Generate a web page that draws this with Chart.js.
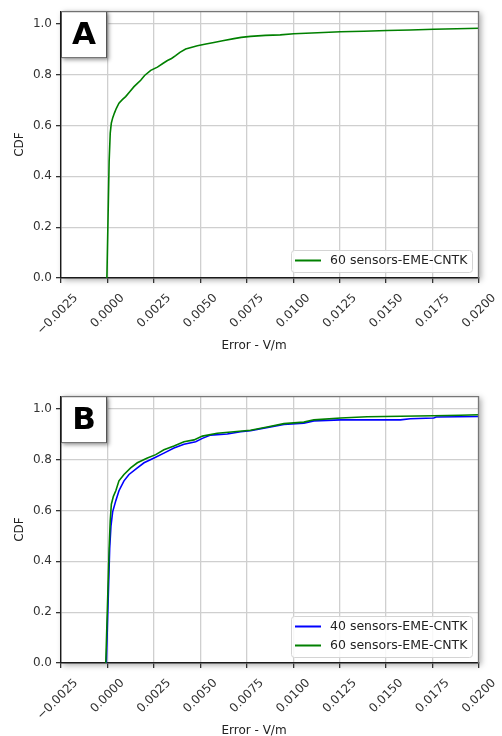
<!DOCTYPE html>
<html>
<head>
<meta charset="utf-8">
<script src="https://cdn.jsdelivr.net/npm/chart.js@4.4.1/dist/chart.umd.min.js"></script>
<style>
  html, body { margin: 0; padding: 0; background: #ffffff; }
  #page { position: relative; width: 502px; height: 736px; overflow: hidden; }
  .panel { position: absolute; left: 0; width: 502px; }
  #panelA { top: 0; height: 356px; }
  #panelB { top: 385px; height: 351px; }
</style>
</head>
<body>
<div id="page">
  <div class="panel" id="panelA"><canvas id="chartA" width="502" height="356"></canvas></div>
  <div class="panel" id="panelB"><canvas id="chartB" width="502" height="351"></canvas></div>
</div>
<script>
// ---- axes ----
const xTicks = [-0.0025, 0, 0.0025, 0.005, 0.0075, 0.01, 0.0125, 0.015, 0.0175, 0.02];
const xTickLabels = ['\u22120.0025', '0.0000', '0.0025', '0.0050', '0.0075', '0.0100', '0.0125', '0.0150', '0.0175', '0.0200'];
const yTicks = [0, 0.2, 0.4, 0.6, 0.8, 1.0];
const yTickLabels = ['0.0', '0.2', '0.4', '0.6', '0.8', '1.0'];
const xTitle = 'Error - V/m';
const yTitle = 'CDF';
const panelLetters = ['A', 'B'];
const seriesLabels = ['40 sensors-EME-CNTK', '60 sensors-EME-CNTK'];

// ---- panel A: 60 sensors ----
const errA60 = [-0.00003, 0.00009, 0.00015, 0.00021, 0.00029, 0.00038, 0.00048, 0.00062,
  0.0008, 0.00098, 0.0012, 0.00143, 0.0016, 0.00179, 0.002, 0.00233, 0.00269, 0.003,
  0.00323, 0.00345, 0.00367, 0.0039, 0.00421, 0.0045, 0.00484, 0.0053, 0.00573, 0.0062,
  0.00681, 0.0072, 0.0077, 0.0085, 0.0093, 0.01003, 0.011, 0.01255, 0.0138, 0.01505,
  0.0163, 0.01756, 0.0188, 0.02];
const cdfA60 = [0, 0.456, 0.57, 0.61, 0.632, 0.65, 0.668, 0.688,
  0.702, 0.714, 0.733, 0.753, 0.765, 0.778, 0.797, 0.817, 0.83, 0.845,
  0.856, 0.864, 0.875, 0.888, 0.901, 0.907, 0.914, 0.921, 0.927, 0.934,
  0.942, 0.947, 0.951, 0.955, 0.957, 0.961, 0.964, 0.969, 0.971, 0.974,
  0.976, 0.979, 0.981, 0.983];

// ---- panel B: 40 sensors ----
const errB40 = [-0.00006, 0.00012, 0.00019, 0.00028, 0.00045, 0.00062, 0.00089, 0.00116,
  0.00161, 0.00197, 0.00251, 0.00304, 0.00358, 0.00412, 0.00475, 0.00511, 0.00555, 0.00645,
  0.00717, 0.0077, 0.0095, 0.01057, 0.01111, 0.01255, 0.01577, 0.0163, 0.01756, 0.0177, 0.02];
const cdfB40 = [0, 0.45, 0.54, 0.595, 0.639, 0.678, 0.717, 0.742,
  0.768, 0.788, 0.807, 0.826, 0.846, 0.861, 0.871, 0.884, 0.897, 0.901,
  0.91, 0.914, 0.939, 0.944, 0.953, 0.957, 0.957, 0.961, 0.964, 0.968, 0.97];

// ---- panel B: 60 sensors ----
const errB60 = [-0.00009, 0.00009, 0.00015, 0.00021, 0.00032, 0.00045, 0.00062,
  0.00089, 0.00125, 0.00161, 0.00215, 0.0026, 0.00304, 0.00358, 0.00412, 0.00466, 0.00511,
  0.00591, 0.00681, 0.0077, 0.0086, 0.0095, 0.01057, 0.01111, 0.01255, 0.01398, 0.01577,
  0.01756, 0.019, 0.02];
const cdfB60 = [0, 0.45, 0.56, 0.625, 0.656, 0.678, 0.717,
  0.742, 0.768, 0.788, 0.807, 0.82, 0.839, 0.854, 0.871, 0.878, 0.893,
  0.904, 0.91, 0.916, 0.929, 0.942, 0.948, 0.957, 0.964, 0.969, 0.971,
  0.973, 0.975, 0.977];

const FONT = 'DejaVu Sans';
const BLUE = '#0000ff';
const GREEN = '#008000';

function points(xs, ys) {
  return xs.map((x, i) => ({ x: x, y: ys[i] }));
}

// White plot face with a soft drop shadow behind it
const faceShadow = {
  id: 'faceShadow',
  beforeDraw(chart) {
    const { ctx, chartArea: a } = chart;
    ctx.save();
    ctx.shadowColor = 'rgba(0,0,0,0.35)';
    ctx.shadowBlur = 6;
    ctx.shadowOffsetX = 2;
    ctx.shadowOffsetY = 2;
    ctx.fillStyle = '#ffffff';
    ctx.fillRect(a.left, a.top, a.right - a.left, a.bottom - a.top);
    ctx.restore();
  }
};

// Top/right spines, panel letter, legend box and x-axis caption
const overlay = {
  id: 'overlay',
  afterDraw(chart, args, opts) {
    const { ctx, chartArea: a } = chart;
    ctx.save();
    // top and right spines
    ctx.strokeStyle = '#777777';
    ctx.lineWidth = 1.3;
    ctx.beginPath();
    ctx.moveTo(a.left, a.top + 0.5);
    ctx.lineTo(a.right - 0.5, a.top + 0.5);
    ctx.lineTo(a.right - 0.5, a.bottom);
    ctx.stroke();

    // panel letter box
    const bx = a.left, by = a.top, bw = 46, bh = 47;
    ctx.save();
    ctx.shadowColor = 'rgba(0,0,0,0.4)';
    ctx.shadowBlur = 4;
    ctx.shadowOffsetX = 2;
    ctx.shadowOffsetY = 2;
    ctx.fillStyle = '#ffffff';
    ctx.fillRect(bx, by, bw, bh);
    ctx.restore();
    ctx.strokeStyle = '#555555';
    ctx.lineWidth = 1;
    ctx.strokeRect(bx + 0.5, by + 0.5, bw - 1, bh - 1);
    ctx.fillStyle = '#000000';
    ctx.font = 'bold 31px "' + FONT + '"';
    ctx.textAlign = 'center';
    ctx.textBaseline = 'middle';
    ctx.fillText(opts.letter, bx + bw / 2, by + bh / 2 + 1);

    // legend
    const ds = chart.data.datasets;
    const lw = 181, lh = 3 + 19 * ds.length;
    const lx = a.right - 7 - lw, ly = a.bottom - 6 - lh;
    ctx.fillStyle = 'rgba(255,255,255,0.85)';
    ctx.strokeStyle = '#d4d4d4';
    ctx.lineWidth = 1;
    ctx.beginPath();
    ctx.roundRect(lx + 0.5, ly + 0.5, lw, lh, 3);
    ctx.fill();
    ctx.stroke();
    ctx.font = '12.5px "' + FONT + '"';
    ctx.textAlign = 'left';
    ctx.textBaseline = 'middle';
    ds.forEach((d, i) => {
      const yy = ly + 10.5 + 19 * i;
      ctx.strokeStyle = d.borderColor;
      ctx.lineWidth = 2;
      ctx.beginPath();
      ctx.moveTo(lx + 4, yy);
      ctx.lineTo(lx + 30, yy);
      ctx.stroke();
      ctx.fillStyle = '#222222';
      ctx.fillText(d.label, lx + 39, yy + 0.5);
    });

    // x-axis caption
    ctx.fillStyle = '#222222';
    ctx.font = '12px "' + FONT + '"';
    ctx.textAlign = 'center';
    ctx.textBaseline = 'middle';
    ctx.fillText(opts.xCaption, (a.left + a.right) / 2 - 16, a.bottom + 68);
    ctx.restore();
  }
};

function makeChart(canvasId, letter, datasets) {
  const canvas = document.getElementById(canvasId);
  const H = canvas.height;
  return new Chart(canvas, {
    type: 'line',
    data: { datasets: datasets },
    options: {
      responsive: false,
      animation: false,
      devicePixelRatio: 1,
      layout: { padding: { top: 6, right: 23, left: 0, bottom: 0 } },
      elements: {
        point: { radius: 0, hoverRadius: 0 },
        line: { tension: 0, borderWidth: 1.6 }
      },
      plugins: {
        legend: { display: false },
        tooltip: { enabled: false },
        overlay: { letter: letter, xCaption: xTitle }
      },
      scales: {
        x: {
          type: 'linear',
          min: xTicks[0],
          max: xTicks[xTicks.length - 1],
          afterBuildTicks: s => { s.ticks = xTicks.map(v => ({ value: v })); },
          afterFit: s => { s.height = H - 278; },
          border: { display: true, color: '#1a1a1a', width: 1.4 },
          grid: { color: '#cfcfcf', lineWidth: 1.3, tickColor: '#333333', tickLength: 5, drawTicks: true },
          ticks: {
            autoSkip: false,
            minRotation: 45,
            maxRotation: 45,
            labelOffset: 15,
            padding: 8,
            color: '#333333',
            font: { family: FONT, size: 12 },
            callback: (v, i) => xTickLabels[i]
          },
          title: { display: false, text: xTitle }
        },
        y: {
          type: 'linear',
          min: 0,
          max: 1.05,
          afterBuildTicks: s => { s.ticks = yTicks.map(v => ({ value: v })); },
          afterFit: s => { s.width = 61; },
          border: { display: true, color: '#1a1a1a', width: 1.4 },
          grid: { color: '#cfcfcf', lineWidth: 1.3, tickColor: '#333333', tickLength: 5, drawTicks: true },
          ticks: {
            padding: 4,
            color: '#333333',
            font: { family: FONT, size: 12 },
            callback: (v, i) => yTickLabels[i]
          },
          title: {
            display: true,
            text: yTitle,
            color: '#222222',
            font: { family: FONT, size: 12 },
            padding: { top: 13, bottom: 0 }
          }
        }
      }
    },
    plugins: [faceShadow, overlay]
  });
}

makeChart('chartA', panelLetters[0], [
  { label: seriesLabels[1], data: points(errA60, cdfA60), borderColor: GREEN, backgroundColor: GREEN, fill: false }
]);

makeChart('chartB', panelLetters[1], [
  { label: seriesLabels[0], data: points(errB40, cdfB40), borderColor: BLUE, backgroundColor: BLUE, fill: false, order: 1 },
  { label: seriesLabels[1], data: points(errB60, cdfB60), borderColor: GREEN, backgroundColor: GREEN, fill: false, order: 0 }
]);
</script>
</body>
</html>
